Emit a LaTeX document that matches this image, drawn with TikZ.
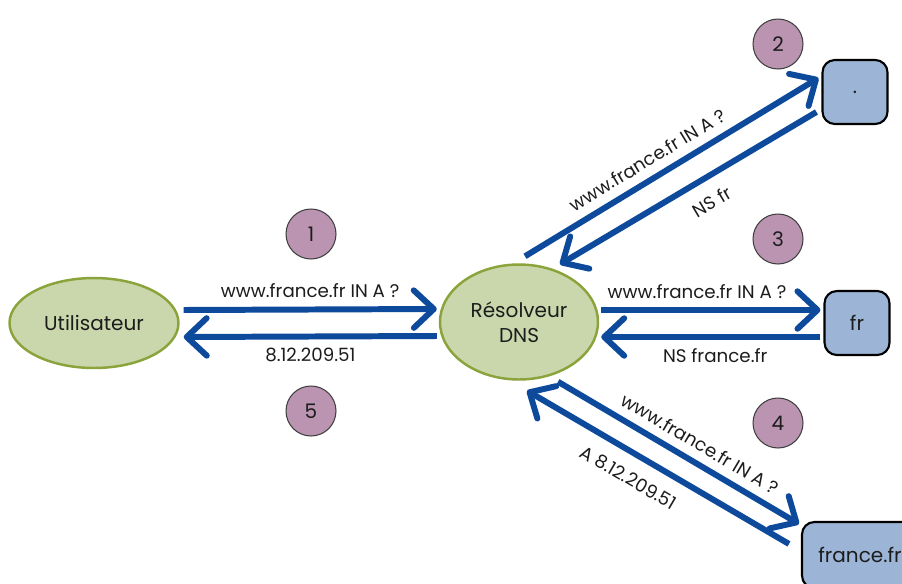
\documentclass[tikz,border=0pt]{standalone}
\usepackage{fontspec}
\setmainfont{Poppins}
\usepackage{xcolor}
\usetikzlibrary{shapes.geometric,arrows.meta}
\definecolor{leaf}{HTML}{CAD7AC}
\definecolor{leafline}{HTML}{8AA33A}
\definecolor{skybox}{HTML}{9CB5D6}
\definecolor{mauve}{HTML}{BA94B1}
\definecolor{flowblue}{HTML}{0E4A9B}
\definecolor{ink}{HTML}{1C1C1C}
\tikzset{
    host-ellipse/.style = {ellipse, draw=leafline, fill=leaf, line width=1.4pt, inner sep=0pt, text=ink, font=\fontsize{11.4}{14}\selectfont},
    server-box/.style = {draw=black, fill=skybox, line width=1.2pt, rounded corners=7pt, minimum width=1.3cm, minimum height=1.28cm, text=ink, font=\fontsize{11.4}{14}\selectfont},
    step-circle/.style = {circle, draw=black!75, fill=mauve, line width=0.6pt, minimum size=1cm, inner sep=0pt, text=ink, font=\fontsize{11.4}{14}\selectfont},
    flow-arrow/.style = {draw=flowblue, line width=3.4pt, -{Straight Barb[length=4mm,width=7.5mm,round]}},
    flow-label/.style = {sloped, inner sep=1pt, text=ink, font=\fontsize{10.4}{12}\selectfont},
}

\begin{document}
\begin{tikzpicture}[x=0.02cm, y=0.02cm]
\useasboundingbox (0,0) rectangle (902,583);

\node[host-ellipse, minimum width=3.38cm, minimum height=1.8cm] (user) at (94,260) {Utilisateur};
\node[host-ellipse, minimum width=3.16cm, minimum height=2.3cm, align=center] (dns) at (519,261) {Résolveur\\DNS};
\node[server-box] (root) at (855,491) {.};
\node[server-box] (fr) at (857,260) {fr};
\node[server-box, minimum width=2.32cm, minimum height=1.32cm] (ffr) at (860,28) {france.fr};

\node[step-circle] (s1) at (311,349) {1};
\node[step-circle] (s2) at (778,539) {2};
\node[step-circle] (s3) at (778,344) {3};
\node[step-circle] (s4) at (778,160) {4};
\node[step-circle] (s5) at (311,172) {5};

\draw[flow-arrow] ([shift={(4,13)}]user.east) -- node[flow-label, above=4pt] (q1) {www.france.fr IN A ?} ([shift={(-2,13)}]dns.west);
\draw[flow-arrow] ([shift={(-2,-14)}]dns.west) -- node[flow-label, below=4pt] (a1) {8.12.209.51} ([shift={(4,-14)}]user.east);

\draw[flow-arrow] ([shift={(6,7)}]dns.north) -- node[flow-label, above=4pt, pos=0.45] (q2) {www.france.fr IN A ?} ([shift={(-3,14)}]root.west);
\draw[flow-arrow] ([shift={(-5,-20)}]root.west) -- node[flow-label, below=7pt, pos=0.455] (a2) {NS fr} ([shift={(41,-1)}]dns.north);

\draw[flow-arrow] ([shift={(2,12)}]dns.east) -- node[flow-label, above=4pt, pos=0.437] (q3) {www.france.fr IN A ?} ([shift={(-3,13)}]fr.west);
\draw[flow-arrow] ([shift={(-3,-14)}]fr.west) -- node[flow-label, below=4pt, pos=0.48] (a3) {NS france.fr} ([shift={(2,-15)}]dns.east);

\draw[flow-arrow] ([shift={(39,-1)}]dns.south) -- node[flow-label, above=4pt, pos=0.55] (q4) {www.france.fr IN A ?} ([shift={(-2,-3)}]ffr.north west);
\draw[flow-arrow] ([shift={(-12,-23)}]ffr.north west) -- node[flow-label, below=7pt, pos=0.567] (a4) {A 8.12.209.51} ([shift={(8,-10)}]dns.south);
\end{tikzpicture}
\end{document}
